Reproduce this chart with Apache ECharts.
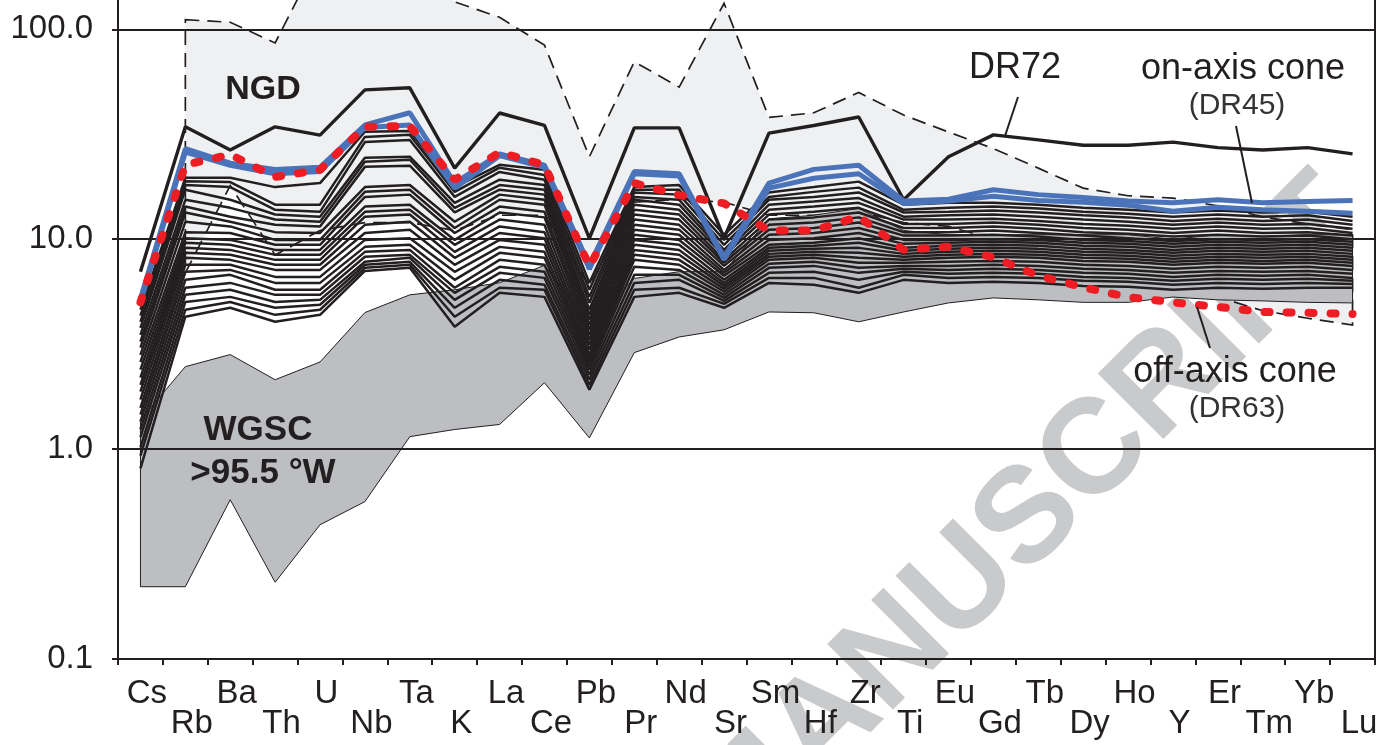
<!DOCTYPE html>
<html><head><meta charset="utf-8">
<script src="https://cdn.jsdelivr.net/npm/echarts@6/dist/echarts.min.js"></script>
<style>html,body{margin:0;padding:0;background:#fff}#c{width:1390px;height:745px}</style>
</head><body><div id="c"></div>
<script>
// ---------- categories & tick labels ----------
const elements = ['Cs','Rb','Ba','Th','U','Nb','Ta','K','La','Ce','Pb','Pr','Nd','Sr','Sm','Hf','Zr','Ti','Eu','Gd','Tb','Dy','Ho','Y','Er','Tm','Yb','Lu'];
const yTickValues = [0.1, 1, 10, 100];

// ---------- fields ----------
const ngdUpper = [null, 111, 108, 86, 226, 265, 214, 135, 114, 84, 24.7, 70, 53, 133, 38, 40, 50, 39, 32.4, 27, 21.8, 17.5, 16.1, 15.7, 14.4, 12.8, 11.8, 11.1];
const ngdLower = [null, 6.9, 18, 8.4, 11, 12, 12, 11, 13, 13, 6, 15, 15.5, 15, 13, 13, 13.5, 12, 11.5, 10, 8, 6.6, 6.3, 5.86, 5.3, 4.56, 4.2, 3.9];
const wgscUpper = [1.38, 2.47, 2.82, 2.14, 2.6, 4.47, 5.43, 5.74, 6.2, 7.5, 4.0, 6.5, 7.0, 7.0, 12.5, 13, 14, 11, 10.5, 10.5, 10.5, 10.5, 10.5, 10, 10.5, 10.3, 10.5, 10.5];
const wgscLower = [0.221, 0.221, 0.574, 0.232, 0.436, 0.562, 1.146, 1.24, 1.31, 2.07, 1.13, 2.88, 3.42, 3.7, 4.5, 4.46, 4.04, 4.5, 4.97, 5.25, 5.14, 5.0, 5.0, 5.3, 5.14, 5.08, 5.0, 4.97];

// ---------- highlighted samples ----------
const dr72 = [7.0, 34.3, 26.6, 34.3, 31.3, 51.4, 52.6, 21.8, 39.9, 34.8, 10.1, 33.9, 33.9, 10.1, 32, 34.8, 38.2, 15.4, 24.7, 31.4, 29.7, 28, 28, 29, 27.3, 26.6, 27.3, 25.5];
const dr45a = [5.2, 27, 23, 21.5, 22, 35, 40, 18.5, 25.5, 22.5, 7.5, 21, 20.5, 8.2, 18.5, 21.5, 22.5, 15.2, 15.5, 17.2, 16.3, 15.8, 15.2, 14.9, 15.4, 14.9, 15.1, 15.3];
const dr45b = [5.0, 26, 22.5, 20.5, 21, 34, 35, 17.5, 25, 22, 7.2, 20.5, 20, 8.0, 17.5, 19.5, 20.5, 14.8, 15.2, 16, 15.3, 15, 14.5, 13.6, 14.2, 13.8, 13.6, 13.3];
const dr63 = [5.0, 22.6, 25.3, 19.8, 21.4, 34.3, 34.6, 19.2, 25.9, 22.6, 7.4, 18.5, 16.2, 14.8, 11.0, 11.0, 12.8, 8.9, 9.2, 8.2, 6.7, 5.9, 5.3, 5.0, 4.76, 4.5, 4.46, 4.4];

// ---------- GSC samples (black lines) ----------
const s01 = [4.61, 19.6, 19.6, 17.7, 18.5, 32.5, 32.8, 17.7, 22.6, 21.4, 6.19, 17.7, 18.1, 10.5, 16.7, 17.7, 18.8, 14.6, 14.9, 14.9, 14.6, 14.1, 13.8, 13.4, 13.7, 13.4, 13.5, 12.8];
const s02 = [4.32, 18.9, 18.7, 14.6, 14.6, 30.7, 31.4, 16.8, 21.9, 20.2, 5.74, 17.2, 17.2, 9.92, 15.9, 16.8, 17.6, 13.8, 14.1, 14.3, 14.0, 13.5, 13.2, 12.8, 13.1, 12.8, 13.0, 12.2];
const s03 = [4.04, 18.1, 17.7, 13.8, 13.5, 29.0, 29.7, 15.9, 20.9, 19.2, 5.31, 16.7, 16.3, 9.40, 15.4, 15.9, 16.7, 13.4, 13.5, 13.7, 13.4, 13.0, 12.7, 12.2, 12.5, 12.2, 12.4, 11.7];
const s04 = [3.78, 17.2, 15.4, 13.1, 12.8, 24.4, 24.7, 14.9, 19.2, 18.1, 4.98, 15.9, 15.4, 8.89, 14.6, 15.1, 15.7, 12.8, 13.0, 13.1, 12.8, 12.4, 12.1, 11.7, 12.0, 11.7, 11.8, 11.2];
const s05 = [3.50, 15.4, 14.1, 12.4, 12.1, 23.4, 23.9, 14.1, 18.1, 17.2, 4.61, 15.4, 14.6, 8.61, 13.8, 14.3, 14.9, 12.4, 12.4, 12.5, 12.2, 11.8, 11.6, 11.2, 11.5, 11.2, 11.3, 10.7];
const s06 = [3.25, 14.3, 12.8, 11.7, 11.5, 22.1, 22.4, 13.4, 17.2, 16.3, 4.36, 14.6, 13.8, 8.33, 13.1, 13.5, 14.1, 11.8, 11.8, 12.0, 11.7, 11.3, 11.1, 10.7, 11.0, 10.7, 10.8, 10.4];
const s07 = [3.04, 13.4, 12.1, 10.8, 10.7, 17.7, 18.1, 12.1, 16.3, 15.4, 4.13, 13.8, 13.1, 7.97, 12.4, 12.7, 13.4, 11.3, 11.3, 11.5, 11.2, 10.8, 10.6, 10.3, 10.5, 10.3, 10.4, 10.0];
const s08 = [2.81, 12.1, 11.5, 9.92, 9.92, 16.8, 17.2, 11.3, 15.4, 14.6, 3.91, 13.1, 12.4, 7.72, 11.7, 12.0, 12.7, 10.8, 10.8, 11.0, 10.7, 10.4, 10.1, 9.8, 10.0, 9.92, 10.0, 9.71];
const s09 = [2.60, 10.8, 10.7, 9.40, 9.40, 15.9, 16.3, 10.7, 14.3, 13.5, 3.70, 12.4, 11.7, 7.46, 11.1, 11.3, 12.0, 10.4, 10.4, 10.5, 10.3, 9.92, 9.81, 9.50, 9.71, 9.61, 9.71, 9.40];
const s10 = [2.39, 10.1, 9.92, 8.89, 8.89, 14.3, 14.6, 9.92, 13.4, 12.7, 3.50, 11.7, 11.1, 7.14, 10.5, 10.7, 11.3, 9.92, 9.92, 10.0, 9.92, 9.61, 9.50, 9.19, 9.40, 9.30, 9.40, 9.09];
const s11 = [2.19, 9.61, 9.40, 8.42, 8.42, 13.5, 13.8, 9.40, 12.4, 11.7, 3.32, 11.1, 10.5, 6.91, 9.92, 10.1, 10.7, 9.50, 9.61, 9.71, 9.61, 9.30, 9.19, 8.89, 9.09, 8.99, 9.09, 8.80];
const s12 = [2.02, 9.09, 8.89, 7.97, 7.97, 12.8, 13.1, 8.70, 11.5, 10.8, 3.14, 10.5, 9.92, 6.69, 9.40, 9.61, 10.1, 9.09, 9.30, 9.40, 9.30, 8.99, 8.89, 8.61, 8.80, 8.70, 8.80, 8.51];
const s13 = [1.88, 8.61, 8.42, 7.55, 7.55, 11.7, 12.1, 8.15, 10.7, 10.1, 2.97, 9.92, 9.40, 6.40, 9.09, 9.30, 9.61, 8.80, 8.99, 9.09, 8.99, 8.70, 8.61, 8.33, 8.51, 8.42, 8.51, 8.24];
const s14 = [1.72, 8.15, 7.97, 7.14, 7.14, 10.7, 11.1, 7.55, 9.92, 9.40, 2.81, 9.40, 8.89, 6.19, 8.80, 8.99, 9.09, 8.51, 8.70, 8.80, 8.70, 8.42, 8.33, 8.06, 8.24, 8.15, 8.24, 7.97];
const s15 = [1.57, 7.55, 7.55, 6.61, 6.61, 9.92, 10.1, 6.99, 9.19, 8.70, 2.72, 8.89, 8.42, 5.99, 8.51, 8.70, 8.61, 8.24, 8.42, 8.51, 8.42, 8.15, 8.06, 7.80, 7.97, 7.88, 7.97, 7.72];
const s16 = [1.46, 6.99, 7.14, 6.19, 6.19, 9.19, 9.40, 6.40, 8.61, 8.15, 2.60, 8.42, 7.97, 5.80, 8.24, 8.42, 8.15, 7.97, 8.15, 8.24, 8.15, 7.88, 7.80, 7.55, 7.72, 7.63, 7.72, 7.46];
const s17 = [1.35, 6.40, 6.76, 5.74, 5.74, 8.70, 8.89, 5.87, 7.97, 7.55, 2.49, 7.97, 7.55, 5.62, 7.97, 8.15, 7.72, 7.72, 7.80, 7.88, 7.80, 7.55, 7.46, 7.22, 7.38, 7.30, 7.38, 7.14];
const s18 = [1.24, 5.87, 6.19, 5.43, 5.43, 8.24, 8.42, 5.55, 7.38, 6.99, 2.39, 7.38, 7.14, 5.43, 7.63, 7.80, 7.30, 7.46, 7.46, 7.55, 7.46, 7.22, 7.14, 6.91, 7.06, 6.99, 7.06, 6.84];
const s19 = [1.14, 5.43, 5.74, 5.02, 5.14, 7.80, 8.15, 5.14, 6.91, 6.54, 2.26, 6.76, 6.76, 5.25, 7.30, 7.46, 6.91, 7.22, 7.14, 7.22, 7.14, 6.91, 6.84, 6.61, 6.76, 6.69, 6.76, 6.54];
const s20 = [1.02, 5.02, 5.31, 4.71, 4.87, 7.55, 7.80, 4.71, 6.40, 6.06, 2.14, 6.19, 6.40, 5.08, 6.91, 6.99, 6.40, 6.99, 6.84, 6.91, 6.84, 6.61, 6.54, 6.33, 6.47, 6.40, 6.47, 6.33];
const s21 = [0.93, 4.61, 5.02, 4.36, 4.61, 7.30, 7.55, 4.27, 5.87, 5.74, 2.02, 5.74, 5.87, 4.92, 6.54, 6.54, 5.87, 6.76, 6.54, 6.61, 6.54, 6.33, 6.26, 6.06, 6.19, 6.12, 6.19, 6.12];
const s22 = [0.81, 4.27, 4.71, 4.04, 4.36, 7.06, 7.30, 3.83, 5.55, 5.31, 1.92, 5.31, 5.55, 4.71, 6.19, 6.06, 5.55, 6.40, 6.19, 6.26, 6.19, 5.99, 5.93, 5.74, 5.87, 5.80, 5.87, 5.87];
const gscSamples = [s01,s02,s03,s04,s05,s06,s07,s08,s09,s10,s11,s12,s13,s14,s15,s16,s17,s18,s19,s20,s21,s22];

// ---------- chart ----------
const FONT = "'Liberation Sans', Arial, Helvetica, sans-serif";
const INK = '#231f20';
const chart = echarts.init(document.getElementById('c'), null, {renderer: 'canvas'});

function fieldSeries(upper, lower, style, z) {
  return {
    type: 'custom', coordinateSystem: 'cartesian2d', silent: true, z: z, clip: false,
    data: [[0, 1]],
    renderItem: function (params, api) {
      const pts = [];
      for (let i = 0; i < upper.length; i++) if (upper[i] != null) pts.push(api.coord([i, upper[i]]));
      for (let i = lower.length - 1; i >= 0; i--) if (lower[i] != null) pts.push(api.coord([i, lower[i]]));
      return {type: 'polygon', shape: {points: pts}, style: style};
    }
  };
}
function lineSeries(data, lineStyle, z) {
  return {type: 'line', data: data, symbol: 'none', silent: true, z: z, lineStyle: lineStyle, animation: false};
}

const series = [];
series.push(fieldSeries(ngdUpper, ngdLower, {fill: '#eff0f2', stroke: INK, lineWidth: 1.7, lineDash: [14, 8]}, 1));
series.push(fieldSeries(wgscUpper, wgscLower, {fill: '#bcbec1', stroke: INK, lineWidth: 1}, 2));
series.push({
  type: 'line', data: elements.map(() => null), symbol: 'none', z: 3, silent: true,
  markLine: {
    silent: true, symbol: ['none', 'none'], label: {show: false}, animation: false,
    lineStyle: {color: INK, width: 1.8, type: 'solid'},
    data: yTickValues.slice(1).map(v => ({yAxis: v}))
  }
});
gscSamples.forEach(s => series.push(lineSeries(s, {color: INK, width: 2.5}, 4)));
series.push(lineSeries(dr72, {color: INK, width: 3.4}, 5));
series.push(lineSeries(dr45b, {color: '#4b73ba', width: 5}, 6));
series.push(lineSeries(dr45a, {color: '#4b73ba', width: 5}, 6));
series.push(lineSeries(dr63, {color: '#ee1d24', width: 8, type: [5, 17], cap: 'round'}, 7));

function txt(text, x, y, size, weight, color) {
  return {type: 'text', x: x, y: y, z: 100, silent: true,
    style: {text: text, fontSize: size, fontWeight: weight || 'normal', fontFamily: FONT, fill: color || INK, align: 'center', verticalAlign: 'middle'}};
}
function seg(x1, y1, x2, y2) {
  return {type: 'line', z: 100, silent: true, shape: {x1: x1, y1: y1, x2: x2, y2: y2}, style: {stroke: INK, lineWidth: 2}};
}

const option = {
  animation: false,
  backgroundColor: '#ffffff',
  grid: {left: 118, right: 15, top: -5, bottom: 86, show: true, borderColor: INK, borderWidth: 2, backgroundColor: 'transparent', outerBoundsMode: 'none', containLabel: false},
  xAxis: {
    type: 'category', data: elements, boundaryGap: true,
    axisLine: {show: true, lineStyle: {color: INK, width: 2}},
    axisTick: {show: true, length: 6, interval: 0, lineStyle: {color: INK, width: 2}},
    splitLine: {show: false},
    axisLabel: {
      interval: 0, fontSize: 33, lineHeight: 30, margin: 20, color: INK, fontFamily: FONT,
      padding: [0, 0, 0, 13],
      formatter: (v, i) => (i % 2 ? '\n' + v : v)
    }
  },
  yAxis: {
    type: 'log', logBase: 10, min: 0.1, max: 145.6,
    axisLine: {show: true, lineStyle: {color: INK, width: 2}},
    axisTick: {show: true, length: 6, lineStyle: {color: INK, width: 2}},
    splitLine: {show: false},
    minorTick: {show: false},
    axisLabel: {
      fontSize: 33, color: INK, fontFamily: FONT, margin: 25,
      formatter: function (v) {
        const l = Math.log10(v);
        if (Math.abs(l - Math.round(l)) > 1e-6) return '';
        return Math.pow(10, Math.round(l)).toFixed(1);
      }
    }
  },
  graphic: {elements: [
    {type: 'text', x: 1030, y: 520, rotation: Math.PI / 4, z: -10, silent: true,
      style: {text: 'MANUSCRIPT', fontSize: 135, fontWeight: 'bold', fontFamily: FONT, fill: '#c9cacc', align: 'center', verticalAlign: 'middle'}},
    txt('NGD', 263, 90, 34, 'bold'),
    txt('WGSC', 258, 430, 35, 'bold'),
    txt('>95.5 °W', 263, 473, 35, 'bold'),
    txt('DR72', 1015, 68, 36),
    txt('on-axis cone', 1243, 69, 36),
    txt('(DR45)', 1237, 106, 30, 'normal', '#333333'),
    txt('off-axis cone', 1235, 372, 36),
    txt('(DR63)', 1237, 409, 30, 'normal', '#333333'),
    seg(1018, 97, 1005, 136),
    seg(1236, 126, 1252, 203),
    seg(1210, 348, 1197, 307)
  ]},
  series: series
};
chart.setOption(option);
</script></body></html>
